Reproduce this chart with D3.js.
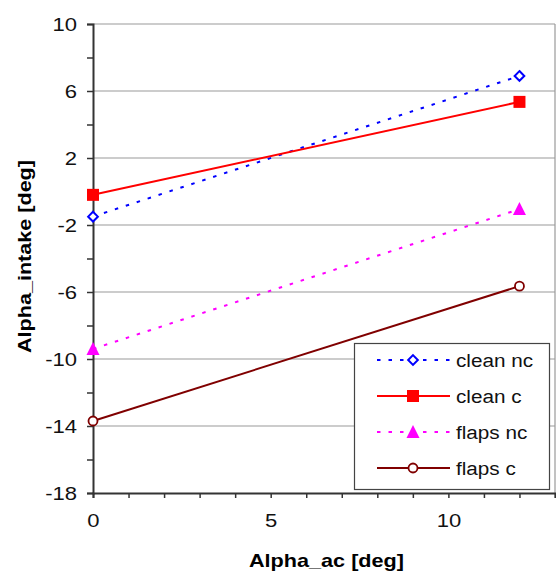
<!DOCTYPE html>
<html>
<head>
<meta charset="utf-8">
<script src="https://cdn.jsdelivr.net/npm/d3@7"></script>
<style>
body { margin: 0; background: #fff; }
text { font-family: "Liberation Sans", Arial, sans-serif; }
</style>
</head>
<body>
<svg id="chart" width="556" height="572"></svg>
<script>
const xValues = [0, 12];
const cleanNc = [-1.5, 6.9];
const cleanC = [-0.2, 5.35];
const flapsNc = [-9.4, -1.05];
const flapsC = [-13.7, -5.65];
const seriesNames = ["clean nc", "clean c", "flaps nc", "flaps c"];
const xTicks = [0, 5, 10];
const yTicks = [-18, -14, -10, -6, -2, 2, 6, 10];

const chart = d3.select("#chart");
const plotLeft = 93, plotRight = 555, plotTop = 24, plotBottom = 493;
const stretch = 1.16; // the original text is a bit wide

const x = d3.scaleLinear().domain([0, 13]).range([plotLeft, plotRight]);
const y = d3.scaleLinear().domain([-18, 10]).range([plotBottom, plotTop]);

const series = [
	{ name: seriesNames[0], values: cleanNc, color: "#0000ff", dash: "3.5,8", marker: "diamond" },
	{ name: seriesNames[1], values: cleanC, color: "#ff0000", dash: null, marker: "square" },
	{ name: seriesNames[2], values: flapsNc, color: "#ff00ff", dash: "3.5,8", marker: "triangle" },
	{ name: seriesNames[3], values: flapsC, color: "#800000", dash: null, marker: "circle" }
];

// grid
chart.append("g").selectAll("line")
	.data(yTicks.slice(1))
	.enter().append("line")
	.attr("x1", plotLeft).attr("x2", plotRight)
	.attr("y1", d => y(d)).attr("y2", d => y(d))
	.attr("stroke", "#999").attr("stroke-width", 1.2);
chart.append("line")
	.attr("x1", plotRight).attr("x2", plotRight).attr("y1", plotTop).attr("y2", plotBottom)
	.attr("stroke", "#999").attr("stroke-width", 1.2);

// axes
const yAxis = chart.append("g").attr("transform", "translate(" + plotLeft + ",0)")
	.call(d3.axisLeft(y).tickValues(d3.range(-18, 11, 2)).tickSize(6).tickFormat(d => yTicks.includes(d) ? d : ""));
yAxis.select(".domain").attr("stroke", "#333").attr("stroke-width", 2);
yAxis.selectAll(".tick line").attr("stroke", "#333").attr("stroke-width", 1.5);
yAxis.selectAll(".tick text").attr("font-size", "19px").attr("fill", "#111")
	.attr("x", -16 / stretch).attr("transform", "scale(" + stretch + ",1)")
	.attr("font-family", "Liberation Sans, Arial, sans-serif");

const xAxis = chart.append("g").attr("transform", "translate(0," + plotBottom + ")")
	.call(d3.axisBottom(x).tickValues(d3.range(0, 14)).tickSize(5).tickFormat(d => xTicks.includes(d) ? d : ""));
xAxis.select(".domain").attr("stroke", "#333").attr("stroke-width", 2);
xAxis.selectAll(".tick line").attr("stroke", "#333").attr("stroke-width", 1.5);
xAxis.selectAll(".tick text").attr("font-size", "19px").attr("fill", "#111").attr("y", 21)
	.attr("transform", "scale(" + stretch + ",1)")
	.attr("font-family", "Liberation Sans, Arial, sans-serif");

// titles
chart.append("text").text("Alpha_ac [deg]")
	.attr("x", 249).attr("y", 567)
	.attr("textLength", 155).attr("lengthAdjust", "spacingAndGlyphs")
	.attr("font-weight", "bold").attr("font-size", "19px");
chart.append("text").text("Alpha_intake [deg]")
	.attr("transform", "translate(31,353) rotate(-90)")
	.attr("textLength", 193).attr("lengthAdjust", "spacingAndGlyphs")
	.attr("font-weight", "bold").attr("font-size", "19px");

function drawMarker(g, s, cx, cy) {
	if (s.marker === "diamond") {
		g.append("path").attr("d", d3.symbol(d3.symbolDiamond2, 60)())
			.attr("transform", "translate(" + cx + "," + cy + ")")
			.attr("fill", "#fff").attr("stroke", s.color).attr("stroke-width", 2);
	} else if (s.marker === "square") {
		g.append("rect").attr("x", cx - 6).attr("y", cy - 6).attr("width", 12).attr("height", 12)
			.attr("fill", s.color);
	} else if (s.marker === "triangle") {
		g.append("path").attr("d", "M0,-7L6.5,6L-6.5,6Z")
			.attr("transform", "translate(" + cx + "," + cy + ")")
			.attr("fill", s.color);
	} else {
		g.append("circle").attr("cx", cx).attr("cy", cy).attr("r", 4.5)
			.attr("fill", "#fff").attr("stroke", s.color).attr("stroke-width", 1.8);
	}
}

const line = d3.line().x(d => x(d[0])).y(d => y(d[1]));
const lines = chart.append("g");
series.forEach(s => {
	const pts = xValues.map((v, i) => [v, s.values[i]]);
	lines.append("path").datum(pts).attr("d", line)
		.attr("fill", "none").attr("stroke", s.color).attr("stroke-width", 2)
		.attr("stroke-dasharray", s.dash);
	pts.forEach(p => drawMarker(lines, s, x(p[0]), y(p[1])));
});

// legend
const legend = chart.append("g");
legend.append("rect").attr("x", 354.5).attr("y", 343.5).attr("width", 195).attr("height", 146)
	.attr("fill", "#fff").attr("stroke", "#444").attr("stroke-width", 1.2);
series.forEach((s, i) => {
	const ly = 360 + i * 36;
	legend.append("line").attr("x1", 377).attr("x2", 450).attr("y1", ly).attr("y2", ly)
		.attr("stroke", s.color).attr("stroke-width", 2).attr("stroke-dasharray", s.dash);
	drawMarker(legend, s, 413, ly);
	legend.append("text").text(s.name)
		.attr("transform", "translate(456," + (ly + 7) + ") scale(1.09,1)")
		.attr("font-size", "19px").attr("fill", "#111");
});
</script>
</body>
</html>
